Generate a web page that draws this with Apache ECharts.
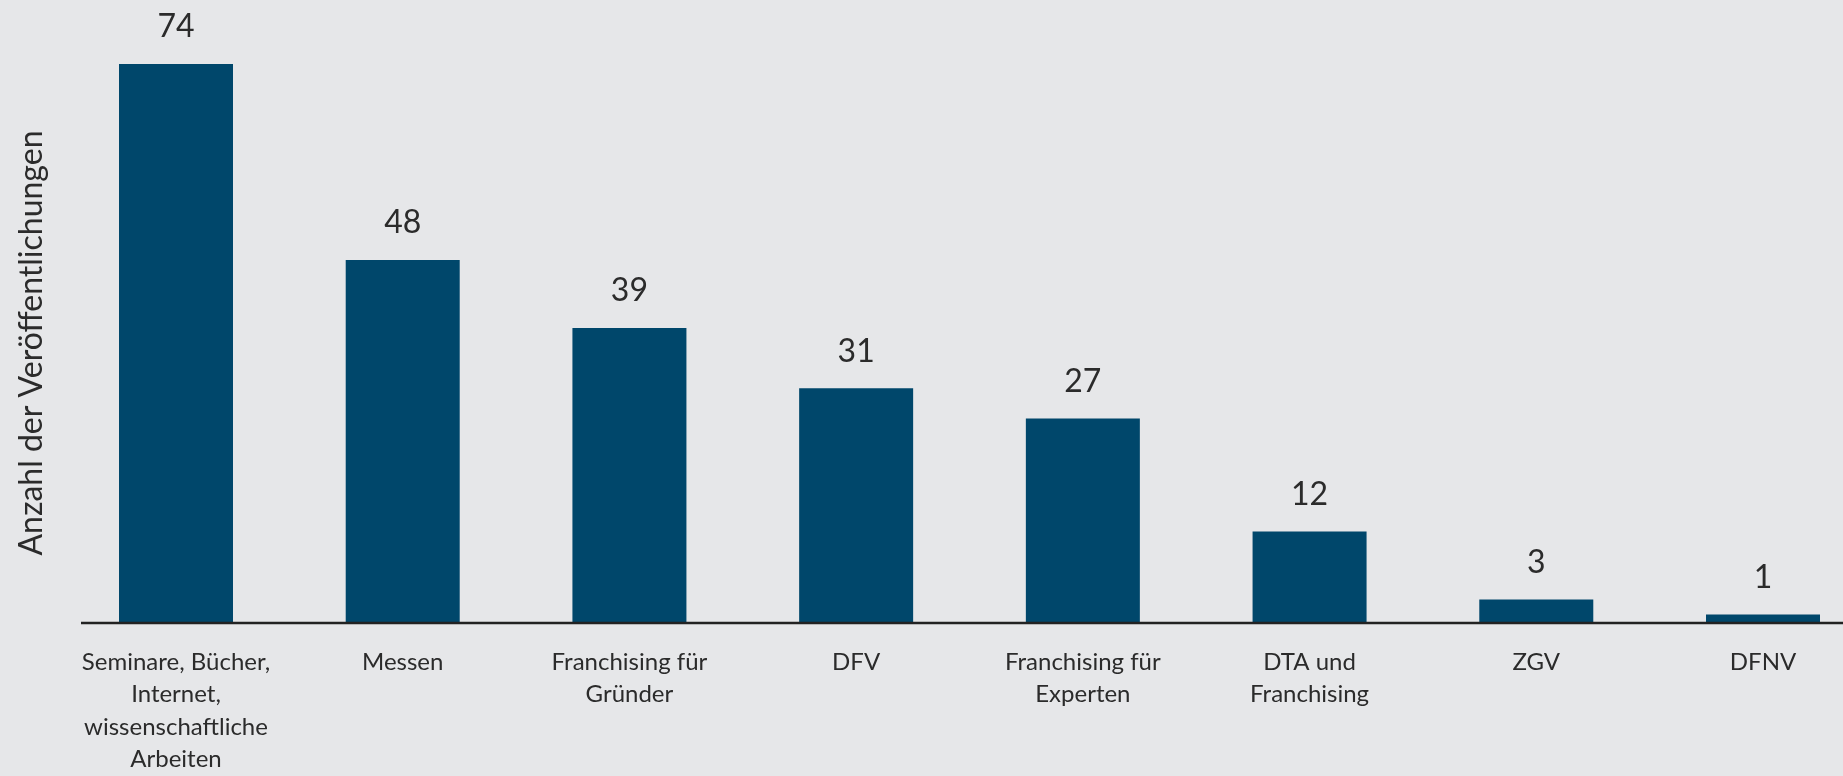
<!DOCTYPE html>
<html>
<head>
<meta charset="utf-8">
<script src="https://cdn.jsdelivr.net/npm/echarts@6/dist/echarts.min.js"></script>
<style>
html,body{margin:0;padding:0;background:#e6e7e9;}
#c{width:1843px;height:776px;}
</style>
</head>
<body>
<div id="c"></div>
<script>
const categories = [
  "Seminare, Bücher,\nInternet,\nwissenschaftliche\nArbeiten",
  "Messen",
  "Franchising für\nGründer",
  "DFV",
  "Franchising für\nExperten",
  "DTA und\nFranchising",
  "ZGV",
  "DFNV"
];
const values = [74, 48, 39, 31, 27, 12, 3, 1];
const yAxisTitle = "Anzahl der Veröffentlichungen";

const FONT = "Lato, 'Open Sans', sans-serif";
const chart = echarts.init(document.getElementById('c'), null, {renderer: 'canvas'});
const option = {
  backgroundColor: '#e6e7e9',
  animation: false,
  grid: {left: 176, right: 80, top: 64, bottom: 153, containLabel: false},
  xAxis: {
    type: 'category',
    data: categories,
    boundaryGap: false,
    axisLine: {show: false},
    axisTick: {show: false},
    axisLabel: {
      interval: 0,
      margin: 24,
      color: '#2b2b2b',
      fontFamily: FONT,
      fontSize: 24,
      lineHeight: 32.5,
      align: 'center'
    }
  },
  yAxis: {
    type: 'value',
    min: 0,
    max: 74,
    axisLine: {show: false},
    axisTick: {show: false},
    axisLabel: {show: false},
    splitLine: {show: false},
    name: yAxisTitle,
    nameLocation: 'middle',
    nameGap: 128,
    nameTextStyle: {color: '#2b2b2b', fontFamily: FONT, fontSize: 32}
  },
  series: [{
    type: 'bar',
    data: values,
    barWidth: 114,
    itemStyle: {color: '#00476b'},
    label: {
      show: true,
      position: 'top',
      distance: 21,
      color: '#2b2b2b',
      fontFamily: FONT,
      fontSize: 32
    }
  }]
};
chart.setOption(option);
const y0 = chart.convertToPixel({yAxisIndex: 0}, 0);
chart.setOption({
  graphic: [{
    type: 'line',
    z: 100,
    shape: {x1: 81, y1: y0 + 1, x2: 1843, y2: y0 + 1},
    style: {stroke: '#222222', lineWidth: 2.5}
  }]
});
</script>
</body>
</html>
